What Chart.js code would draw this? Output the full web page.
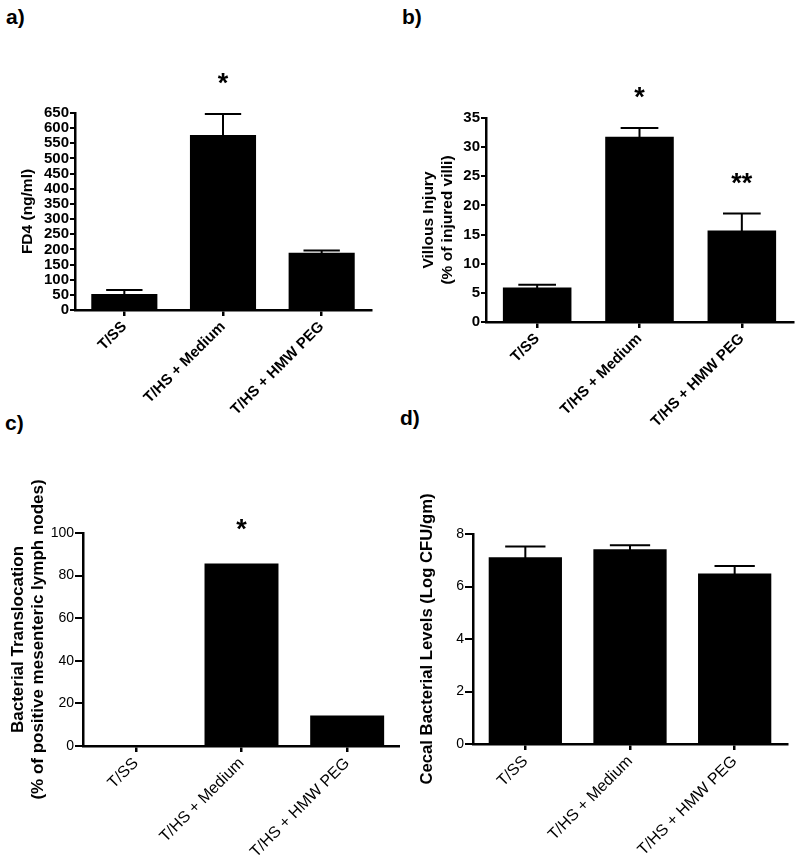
<!DOCTYPE html>
<html>
<head>
<meta charset="utf-8">
<script src="https://cdn.jsdelivr.net/npm/chart.js@4"></script>
<style>
  html, body { margin: 0; padding: 0; background: #fff; }
  body { width: 800px; height: 863px; position: relative; overflow: hidden; font-family: "Liberation Sans", Arial, sans-serif; }
  canvas { position: absolute; }
  .plabel { position: absolute; font-weight: bold; font-size: 21px; line-height: 1; color: #000; }
</style>
</head>
<body>
<div class="plabel" style="left:6px;top:6px;">a)</div>
<div class="plabel" style="left:402px;top:6px;">b)</div>
<div class="plabel" style="left:5px;top:412px;">c)</div>
<div class="plabel" style="left:400px;top:407px;">d)</div>
<canvas id="cc" width="400" height="443" style="left:0;top:420px;"></canvas>
<canvas id="cd" width="400" height="443" style="left:400px;top:420px;"></canvas>
<canvas id="ca" width="400" height="440" style="left:0;top:0;"></canvas>
<canvas id="cb" width="400" height="445" style="left:400px;top:0;"></canvas>
<script>
// ---- data ----
const categories = ['T/SS', 'T/HS + Medium', 'T/HS + HMW PEG'];

const fd4Means = [53, 577, 189];
const fd4Errors = [13, 70, 7];
const fd4Stars = ['', '*', ''];
const fd4Ticks = [0, 650, 50];

const villousMeans = [5.9, 31.8, 15.7];
const villousErrors = [0.5, 1.5, 2.9];
const villousStars = ['', '*', '**'];
const villousTicks = [0, 35, 5];

const translocationMeans = [0, 85.7, 14.3];
const translocationStars = ['', '*', ''];
const translocationTicks = [0, 100, 20];

const cecalMeans = [7.11, 7.42, 6.50];
const cecalErrors = [0.41, 0.15, 0.28];
const cecalStars = ['', '', ''];
const cecalTicks = [0, 8, 2];

// ---- drawing ----
const FONT = '"Liberation Sans", Arial, sans-serif';

function makeChart(id, o) {
  const W = o.w, H = o.h;
  const annot = {
    id: 'annot_' + id,
    afterDatasetsDraw(chart) {
      const ctx = chart.ctx;
      const meta = chart.getDatasetMeta(0);
      const ys = chart.scales.y;
      ctx.save();
      meta.data.forEach((bar, i) => {
        const v = o.means[i];
        let top = ys.getPixelForValue(v);
        if (o.errors) {
          const e = o.errors[i];
          const yt = ys.getPixelForValue(v + e);
          const cw = bar.width * 0.55;
          ctx.strokeStyle = '#000';
          ctx.lineWidth = 2;
          ctx.beginPath();
          ctx.moveTo(bar.x, top + 1);
          ctx.lineTo(bar.x, yt);
          ctx.moveTo(bar.x - cw / 2, yt);
          ctx.lineTo(bar.x + cw / 2, yt);
          ctx.stroke();
          top = yt;
        }
        const s = o.stars[i];
        if (s) {
          ctx.fillStyle = '#000';
          ctx.font = 'bold 27px ' + FONT;
          ctx.textAlign = 'center';
          ctx.textBaseline = 'alphabetic';
          ctx.fillText(s, bar.x, top - o.starGap);
        }
      });
      ctx.restore();
    }
  };
  return new Chart(document.getElementById(id), {
    type: 'bar',
    data: {
      labels: categories,
      datasets: [{
        data: o.means,
        backgroundColor: '#000',
        borderWidth: 0,
        categoryPercentage: 1,
        barPercentage: o.barPct
      }]
    },
    options: {
      responsive: false,
      animation: false,
      devicePixelRatio: 1,
      layout: { padding: { left: 0, top: o.top, right: W - o.right, bottom: 0 } },
      plugins: { legend: { display: false }, tooltip: { enabled: false } },
      scales: {
        x: {
          afterFit(s) { s.height = H - o.bottom; },
          grid: { offset: false, drawOnChartArea: false, drawTicks: true, tickLength: 6, color: '#000', lineWidth: 2.5 },
          border: { display: true, color: '#000', width: 2.5 },
          ticks: {
            color: '#000', autoSkip: false, maxRotation: 45, minRotation: 45, padding: 2,
            font: { family: FONT, size: o.xFont, weight: o.bold ? 'bold' : 'normal' }
          }
        },
        y: {
          min: o.ticks[0], max: o.ticks[1],
          afterFit(s) { s.width = o.left; },
          grid: { drawOnChartArea: false, drawTicks: true, tickLength: o.tickLen, color: '#000', lineWidth: 2 },
          border: { display: true, color: '#000', width: 2.5 },
          ticks: {
            stepSize: o.ticks[2], autoSkip: false, color: '#000', padding: 1,
            font: { family: FONT, size: o.yFont, weight: o.bold ? 'bold' : 'normal', lineHeight: 1 }
          },
          title: {
            display: true, text: o.title, color: '#000',
            padding: { top: o.titlePad, bottom: 0 },
            font: { family: FONT, size: o.titleFont, weight: 'bold', lineHeight: o.titleLH }
          }
        }
      }
    },
    plugins: [annot]
  });
}

makeChart('ca', {
  w: 400, h: 440, left: 75, right: 371, top: 113, bottom: 310,
  means: fd4Means, errors: fd4Errors, stars: fd4Stars, ticks: fd4Ticks,
  barPct: 0.67, bold: true, xFont: 15, yFont: 15, tickLen: 5,
  title: 'FD4 (ng/ml)', titleFont: 15.5, titleLH: 1.2, titlePad: 18, starGap: 22
});
makeChart('cb', {
  w: 400, h: 445, left: 86, right: 393, top: 118, bottom: 322,
  means: villousMeans, errors: villousErrors, stars: villousStars, ticks: villousTicks,
  barPct: 0.67, bold: true, xFont: 15, yFont: 15, tickLen: 5,
  title: ['Villous Injury', '(% of injured villi)'], titleFont: 15.5, titleLH: 1.22, titlePad: 19, starGap: 22
});
makeChart('cc', {
  w: 400, h: 443, left: 83, right: 400, top: 113, bottom: 326,
  means: translocationMeans, errors: null, stars: translocationStars, ticks: translocationTicks,
  barPct: 0.70, bold: false, xFont: 16, yFont: 14, tickLen: 8,
  title: ['Bacterial Translocation', '(% of positive mesenteric lymph nodes)'], titleFont: 17, titleLH: 1.18, titlePad: 8, starGap: 25
});
makeChart('cd', {
  w: 400, h: 443, left: 73, right: 387, top: 114, bottom: 324,
  means: cecalMeans, errors: cecalErrors, stars: cecalStars, ticks: cecalTicks,
  barPct: 0.70, bold: false, xFont: 16, yFont: 14, tickLen: 8,
  title: 'Cecal Bacterial Levels (Log CFU/gm)', titleFont: 16.7, titleLH: 1.2, titlePad: 17, starGap: 22
});
</script>
</body>
</html>
